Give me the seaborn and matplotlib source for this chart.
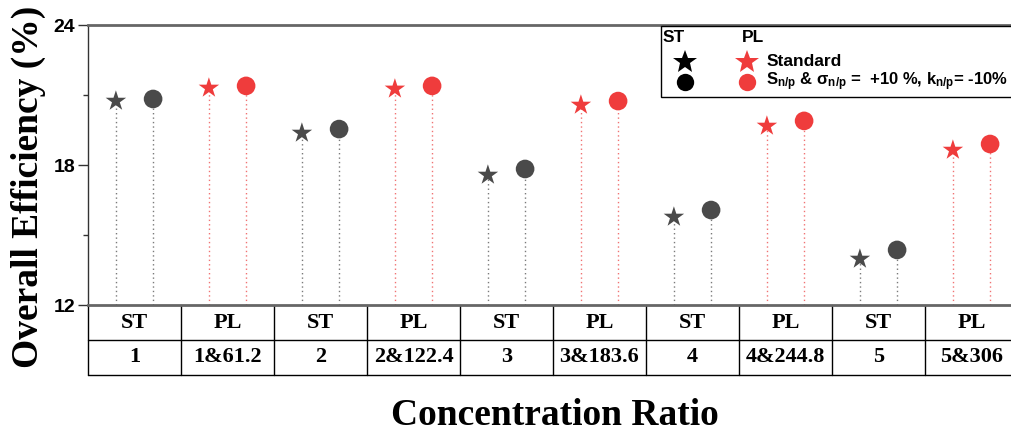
import matplotlib
matplotlib.use('Agg')
import matplotlib.pyplot as plt
import matplotlib.transforms as mtrans
from matplotlib.lines import Line2D
from matplotlib.patches import Rectangle
from matplotlib.ticker import MultipleLocator
import seaborn as sns
import pandas as pd

# ---------------- data ----------------
row_top = ['ST', 'PL', 'ST', 'PL', 'ST', 'PL', 'ST', 'PL', 'ST', 'PL']
row_bottom = ['1', '1&61.2', '2', '2&122.4', '3', '3&183.6', '4', '4&244.8', '5', '5&306']
standard = [20.74, 21.30, 19.37, 21.26, 17.57, 20.57, 15.77, 19.67, 13.97, 18.64]
modified = [20.83, 21.39, 19.54, 21.39, 17.83, 20.74, 16.07, 19.89, 14.36, 18.90]
y_ticks = [12, 18, 24]

# ---------------- style ----------------
sns.set_theme(style='white')
plt.rcParams['font.family'] = ['Liberation Sans', 'DejaVu Sans']
plt.rcParams['text.color'] = 'black'
plt.rcParams['axes.labelcolor'] = 'black'
plt.rcParams['xtick.color'] = 'black'
plt.rcParams['ytick.color'] = 'black'
plt.rcParams['mathtext.fontset'] = 'custom'
plt.rcParams['mathtext.rm'] = 'Liberation Sans:bold'
plt.rcParams['mathtext.it'] = 'Liberation Sans:bold'
plt.rcParams['mathtext.bf'] = 'Liberation Sans:bold'

ST_COL = '#4a4a4a'
PL_COL = '#ef3c3c'
ST_STEM = '#7a7a7a'
PL_STEM = '#f07272'

W, H = 1011, 437
fig = plt.figure(figsize=(W / 100, H / 100), dpi=100)
ax = fig.add_axes([88 / W, 1 - 305 / H, 930 / W, 280 / H])

rows = []
for i in range(len(row_top)):
    rows.append({'x': i - 0.2, 'value': standard[i], 'type': row_top[i], 'case': 'Standard'})
    rows.append({'x': i + 0.2, 'value': modified[i], 'type': row_top[i], 'case': 'Modified'})
df = pd.DataFrame(rows)

# stems
stem_cols = [ST_STEM if t == 'ST' else PL_STEM for t in df['type']]
ax.vlines(df['x'], 12, df['value'], colors=stem_cols, linestyles=(0, (1, 2.2)),
          linewidth=1.0, zorder=2)

sns.scatterplot(data=df, x='x', y='value', hue='type', style='case', size='case',
                sizes={'Standard': 240, 'Modified': 180},
                markers={'Standard': '*', 'Modified': 'o'},
                palette={'ST': ST_COL, 'PL': PL_COL},
                linewidth=0, legend=False, ax=ax, zorder=3)

ax.set_xlim(-0.5, len(row_top) - 0.5)
ax.set_ylim(12, 24)
ax.set_xticks([])
ax.set_xlabel('')
ax.set_ylabel('')
ax.yaxis.set_major_locator(MultipleLocator(6))
ax.yaxis.set_minor_locator(MultipleLocator(3))
ax.set_yticks(y_ticks)
ax.set_yticklabels([str(v) for v in y_ticks], fontsize=14, fontweight='bold',
                   family='Liberation Sans', color='black')
ax.tick_params(axis='y', which='major', direction='out', length=7, width=1,
               color='#333333', pad=2, left=True)
ax.tick_params(axis='y', which='minor', direction='out', length=3.5, width=1,
               color='#333333', left=True)

ax.spines['right'].set_visible(False)
ax.spines['left'].set_color('#333333')
ax.spines['left'].set_linewidth(1.0)
ax.spines['bottom'].set_color('#666666')
ax.spines['bottom'].set_linewidth(2.0)
ax.spines['top'].set_color('#666666')
ax.spines['top'].set_linewidth(2.0)

# ---------------- table under the axis ----------------
blend = mtrans.blended_transform_factory(ax.transData, ax.transAxes)
y_mid = -35 / 280
y_bot = -70 / 280
for yy in [y_mid, y_bot]:
    ax.add_line(Line2D([0, 1], [yy, yy], transform=ax.transAxes, color='black',
                       lw=1.0, clip_on=False))
ax.add_line(Line2D([0, 0], [0, y_bot], transform=ax.transAxes, color='black',
                   lw=1.0, clip_on=False))
for b in range(1, len(row_top) + 1):
    ax.add_line(Line2D([b - 0.5, b - 0.5], [0, y_bot], transform=blend, color='black',
                       lw=1.0, clip_on=False))
for i in range(len(row_top)):
    ax.text(i, y_mid / 2, row_top[i], transform=blend, ha='center', va='center',
            family='Liberation Serif', fontweight='bold', fontsize=16, color='black')
    ax.text(i, (y_mid + y_bot) / 2, row_bottom[i], transform=blend, ha='center',
            va='center', family='Liberation Serif', fontweight='bold', fontsize=16,
            color='black')

# ---------------- axis titles ----------------
fig.text(28 / W, 1 - 187 / H, 'Overall Efficiency (%)', rotation=90, ha='center',
         va='center', family='Liberation Serif', fontweight='bold', fontsize=27,
         color='black')
fig.text(555 / W, 1 - 425 / H, 'Concentration Ratio', ha='center', va='baseline',
         family='Liberation Serif', fontweight='bold', fontsize=27, color='black')

# ---------------- legend (drawn manually) ----------------
fig.add_artist(Rectangle((661 / W, 1 - 97 / H), 400 / W, 71 / H, transform=fig.transFigure,
                         facecolor='white', edgecolor='black', lw=1.0, zorder=5))


def fx(px):
    return px / W


def fy(py):
    return 1 - py / H


fig.text(fx(663), fy(38), 'ST', ha='left', va='center', fontsize=12.5, fontweight='bold',
         zorder=6)
fig.text(fx(742), fy(38), 'PL', ha='left', va='center', fontsize=12.5, fontweight='bold',
         zorder=6)
fig.add_artist(Line2D([fx(685)], [fy(62)], marker='*', markersize=18, color='black',
                      markeredgewidth=0, linestyle='none', zorder=6))
fig.add_artist(Line2D([fx(747)], [fy(62)], marker='*', markersize=18, color=PL_COL,
                      markeredgewidth=0, linestyle='none', zorder=6))
fig.add_artist(Line2D([fx(685)], [fy(82)], marker='o', markersize=12.5, color='black',
                      markeredgewidth=0, linestyle='none', zorder=6))
fig.add_artist(Line2D([fx(747)], [fy(82)], marker='o', markersize=12.5, color=PL_COL,
                      markeredgewidth=0, linestyle='none', zorder=6))
fig.text(fx(767), fy(62), 'Standard', ha='left', va='center', fontsize=12.5,
         fontweight='bold', zorder=6)
fig.text(fx(766), fy(82),
         r'S$_{n/p}$ & σ$_{n/p}$ =  +10 %, k$_{n/p}$= -10%',
         ha='left', va='center', fontsize=12, fontweight='bold', zorder=6)

fig.savefig('out.png', dpi=100)
